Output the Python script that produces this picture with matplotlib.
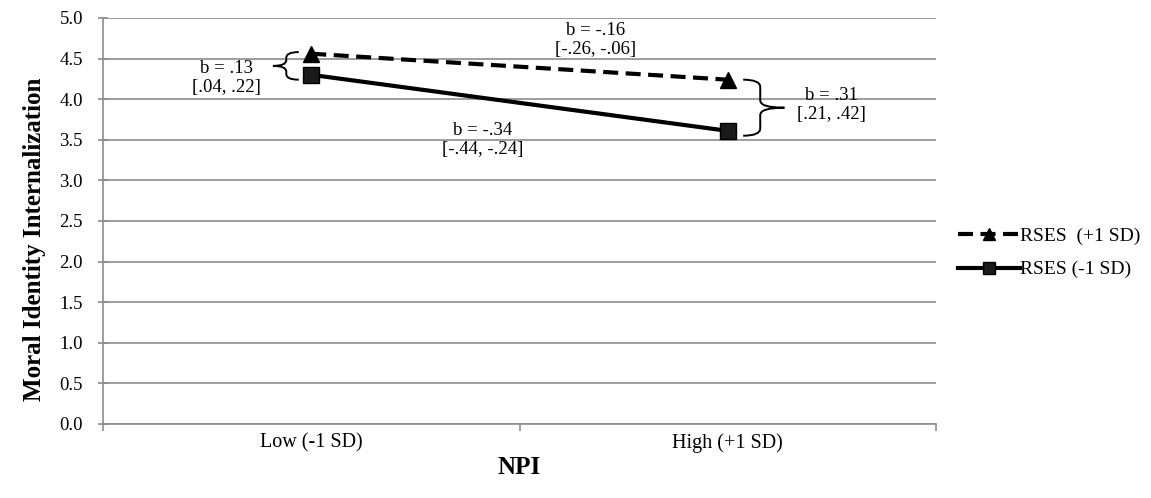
import numpy as np
import matplotlib
matplotlib.use("Agg")
import matplotlib.pyplot as plt
from matplotlib.path import Path
from matplotlib.patches import PathPatch

plt.rcParams['font.family'] = ['Liberation Serif', 'DejaVu Serif']

# data
categories = ['Low (-1 SD)', 'High (+1 SD)']
rses_high = [4.56, 4.24]   # RSES (+1 SD)
rses_low = [4.30, 3.61]    # RSES (-1 SD)
series_labels = ['RSES  (+1 SD)', 'RSES (-1 SD)']
slope_notes = ['b = -.16\n[-.26, -.06]', 'b = -.34\n[-.44, -.24]',
               'b = .13\n[.04, .22]', 'b = .31\n[.21, .42]']

fig = plt.figure(figsize=(11.51, 4.98), dpi=100)
ax = fig.add_axes([0.0895, 0.1486, 0.7237, 0.8153])

xpos = np.arange(len(categories)) + 0.5
ax.plot(xpos, rses_high, color='black', lw=3, ls=(0, (3.6, 1.8)),
        marker='^', ms=11, mfc='black', mec='black', label=series_labels[0])
ax.plot(xpos, rses_low, color='black', lw=3, ls='-',
        marker='s', ms=11, mfc='#1a1a1a', mec='black', label=series_labels[1])

ax.set_xlim(0, 2)
ax.set_ylim(0, 5)
yt = np.arange(0, 5.01, 0.5)
ax.set_yticks(yt)
ax.set_yticklabels([f'{v:.1f}' for v in yt], fontsize=13.5)
ax.yaxis.grid(True, color='#8c8c8c', lw=1.2)
ax.set_axisbelow(True)

ax.set_xticks([0, 1, 2])
ax.set_xticklabels([])
ax.set_xticks(xpos, minor=True)
ax.set_xticklabels(categories, minor=True, fontsize=14.5)
ax.tick_params(axis='x', which='minor', length=0, pad=7)
ax.tick_params(axis='x', which='major', length=5, color='#8c8c8c', width=1.2)
ax.tick_params(axis='y', direction='inout', length=7, color='#8c8c8c', width=1.2, pad=11)

for s in ['top', 'right']:
    ax.spines[s].set_visible(False)
for s in ['left', 'bottom']:
    ax.spines[s].set_color('#8c8c8c')
    ax.spines[s].set_linewidth(1.2)

ax.set_ylabel('Moral Identity Internalization', fontsize=18, fontweight='bold')
ax.yaxis.set_label_coords(-0.068, 0.455)
ax.set_xlabel('NPI', fontsize=18, fontweight='bold', labelpad=2)


def brace(ax, xs, xt, y0, y1, xe, r):
    # curly brace: spine at xs, tip at xt, arm ends at xe, corner size r
    ym = (y0 + y1) / 2
    verts = [(xe, y1), (xs, y1), (xs, y1 - r),
             (xs, ym + r), (xs, ym), (xt, ym),
             (xs, ym), (xs, ym - r),
             (xs, y0 + r), (xs, y0), (xe, y0)]
    codes = [Path.MOVETO, Path.CURVE3, Path.CURVE3,
             Path.LINETO, Path.CURVE3, Path.CURVE3,
             Path.CURVE3, Path.CURVE3,
             Path.LINETO, Path.CURVE3, Path.CURVE3]
    ax.add_patch(PathPatch(Path(verts, codes), fc='none', ec='black', lw=1.4,
                           clip_on=False))


brace(ax, 0.440, 0.408, 4.24, 4.58, 0.470, 0.07)
brace(ax, 1.578, 1.636, 3.55, 4.24, 1.537, 0.09)

fs = 13.5
ax.text(1.182, 4.73, slope_notes[0], ha='center', va='center', fontsize=fs, linespacing=1.15)
ax.text(0.912, 3.5, slope_notes[1], ha='center', va='center', fontsize=fs, linespacing=1.15)
ax.text(0.297, 4.26, slope_notes[2], ha='center', va='center', fontsize=fs, linespacing=1.15)
ax.text(1.75, 3.93, slope_notes[3], ha='center', va='center', fontsize=fs, linespacing=1.15)

fig.legend(loc='center left', bbox_to_anchor=(958 / 1151, 0.492), frameon=False,
           fontsize=14, handlelength=3.2, handletextpad=0.0, labelspacing=0.8,
           borderaxespad=0, borderpad=0, markerscale=0.85)

fig.savefig('out.png', dpi=100)
